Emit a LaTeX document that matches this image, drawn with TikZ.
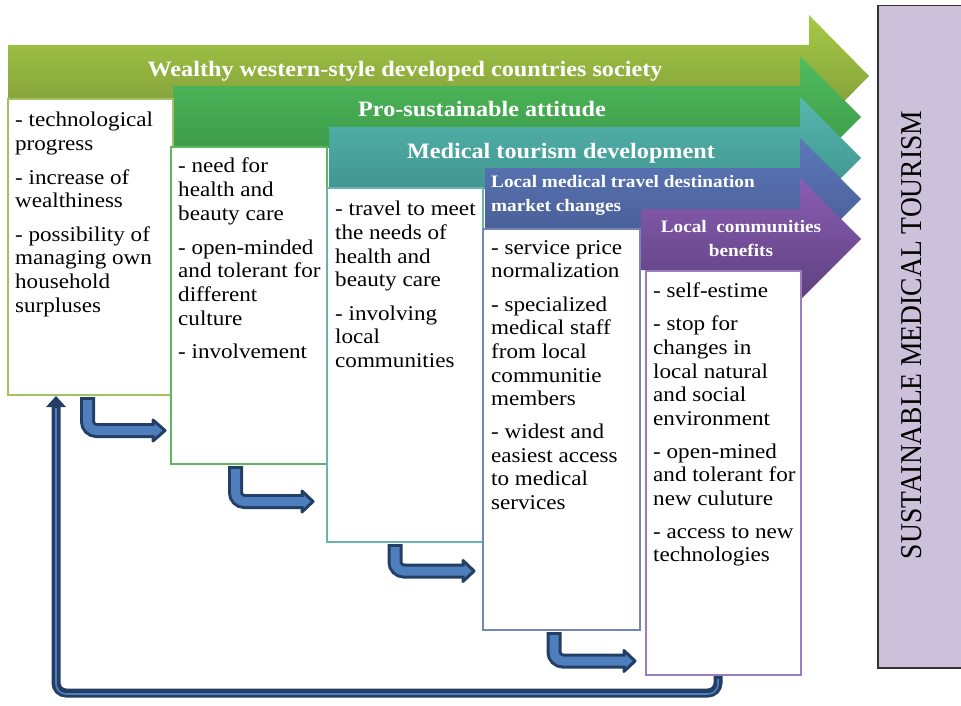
\documentclass[tikz,border=0pt]{standalone}
\usepackage{fontspec}
\usepackage{graphicx}
\setmainfont{Liberation Serif}[FakeStretch=1.1]
\newfontfamily\rotfont{Liberation Serif}
\definecolor{a1t}{HTML}{A6CA46}
\definecolor{a1b}{HTML}{7A9538}
\definecolor{a2t}{HTML}{50BE5E}
\definecolor{a2b}{HTML}{389042}
\definecolor{a3t}{HTML}{55B8AE}
\definecolor{a3b}{HTML}{3A8A86}
\definecolor{a4t}{HTML}{5C78BA}
\definecolor{a4b}{HTML}{44588E}
\definecolor{a5t}{HTML}{8A5EB2}
\definecolor{a5b}{HTML}{5E4080}
\definecolor{c1}{HTML}{A3C266}
\definecolor{c2}{HTML}{5DB860}
\definecolor{c3}{HTML}{6BB5AF}
\definecolor{c4}{HTML}{7486B4}
\definecolor{c5}{HTML}{9A7DBE}
\definecolor{arrdark}{HTML}{243F66}
\definecolor{arrblue}{HTML}{4F7EBD}
\definecolor{lilac}{HTML}{CCC0DA}
\newcommand\bentarr[5]{%
  \draw[arrdark,line width=15,rounded corners=9] (#1,#2) -- (#1,#3) -- (#4+1,#3);
  \filldraw[fill=arrblue,draw=arrdark,line width=3,line join=round] (#4,#3-10.5) -- (#5-2,#3) -- (#4,#3+10.5) -- cycle;
  \draw[arrblue,line width=9,rounded corners=9] (#1,#2+3) -- (#1,#3) -- (#4+2,#3);}
\tikzset{
  boxnode/.style={draw, fill=white, line width=1.3, anchor=north west, inner sep=0, outer sep=0},
  boxtxt/.style={anchor=north west, align=left, inner sep=0, font=\fontsize{21}{23.7}\selectfont},
  ttl/.style={anchor=base, inner sep=0, text=white, font=\bfseries\fontsize{22}{26}\selectfont},
  ttlsmall/.style={inner sep=0, text=white, font=\bfseries\fontsize{17.5}{24}\selectfont}
}
\begin{document}
\begin{tikzpicture}[x=1pt,y=-1pt]
\useasboundingbox (0,0) rectangle (961,706);
% chevron arrows
\path[top color=a1t,bottom color=a1b] (8,45) -- (809,45) -- (809,15) -- (869,76) -- (809,137) -- (809,107) -- (8,107) -- cycle;
\path[top color=a2t,bottom color=a2b] (173,86) -- (800,86) -- (800,56) -- (861,117) -- (800,178) -- (800,148) -- (173,148) -- cycle;
\path[top color=a3t,bottom color=a3b] (329,127) -- (800,127) -- (800,97) -- (861,158) -- (800,219) -- (800,189) -- (329,189) -- cycle;
\path[top color=a4t,bottom color=a4b] (485,168) -- (800,168) -- (800,138) -- (861,199) -- (800,260) -- (800,230) -- (485,230) -- cycle;
\path[top color=a5t,bottom color=a5b] (641,209) -- (800,209) -- (800,178) -- (861,239) -- (800,300) -- (800,270) -- (641,270) -- cycle;
% titles
\node[ttl] (t1) at (405,77) {Wealthy western-style developed countries society};
\node[ttl] (t2) at (482,117) {Pro-sustainable attitude};
\node[ttl] (t3) at (561,158) {Medical tourism development};
\node[ttlsmall, anchor=north west, align=left] (t4) at (491,175) {Local medical travel destination\\market changes};
\node[ttlsmall, anchor=north, align=center] (t5) at (741,220) {Local\ \ communities\\benefits};
% boxes
\node[boxnode, draw=c1, minimum width=165, minimum height=296] (b1) at (8,99) {};
\node[boxnode, draw=c2, minimum width=156, minimum height=317] (b2) at (171,147) {};
\node[boxnode, draw=c3, minimum width=156, minimum height=354] (b3) at (327,188) {};
\node[boxnode, draw=c4, minimum width=157, minimum height=401] (b4) at (483,229) {};
\node[boxnode, draw=c5, minimum width=155, minimum height=404] (b5) at (646,271) {};
% box texts
\node[boxtxt] (x1) at (15,112) {- technological\\progress\\[10pt]- increase of\\wealthiness\\[9.5pt]- possibility of\\managing own\\household\\surpluses};
\node[boxtxt] (x2) at (178,158) {- need for\\health and\\beauty care\\[10pt]- open-minded\\and tolerant for\\different\\culture\\[9.5pt]- involvement};
\node[boxtxt] (x3) at (335,201) {- travel to meet\\the needs of\\health and\\beauty care\\[9.5pt]- involving\\local\\communities};
\node[boxtxt] (x4) at (491,240) {- service price\\normalization\\[9.5pt]- specialized\\medical staff\\from local\\communitie\\members\\[9pt]- widest and\\easiest access\\to medical\\services};
\node[boxtxt] (x5) at (653,283) {- self-estime\\[9pt]- stop for\\changes in\\local natural\\and social\\environment\\[9pt]- open-mined\\and tolerant for\\new culuture\\[9pt]- access to new\\technologies};
% bent connectors
\bentarr{87.5}{397}{430.5}{153}{167}
\bentarr{235.5}{466}{501.5}{302}{315}
\bentarr{395}{544}{571}{463}{476}
\bentarr{554}{632}{661}{624}{637}
% feedback arrow
\draw[arrdark,line width=9,rounded corners=10] (718,676) -- (718,693) -- (56,693) -- (56,405);
\draw[arrblue,line width=1.6,rounded corners=10] (718,679) -- (718,694) -- (56,694) -- (56,408);
\fill[arrdark] (46,407) -- (56,396) -- (66,407) -- cycle;
% right box
\node[draw=black!80, fill=lilac, line width=1.5, anchor=north west, minimum width=90, minimum height=662, inner sep=0] (sm) at (877,5) {};
\node[rotate=90, inner sep=0] (smt) at (912,335) {\scalebox{1}[1.1]{\rotfont\fontsize{27.5}{30}\selectfont SUSTAINABLE MEDICAL TOURISM}};
\end{tikzpicture}
\end{document}
